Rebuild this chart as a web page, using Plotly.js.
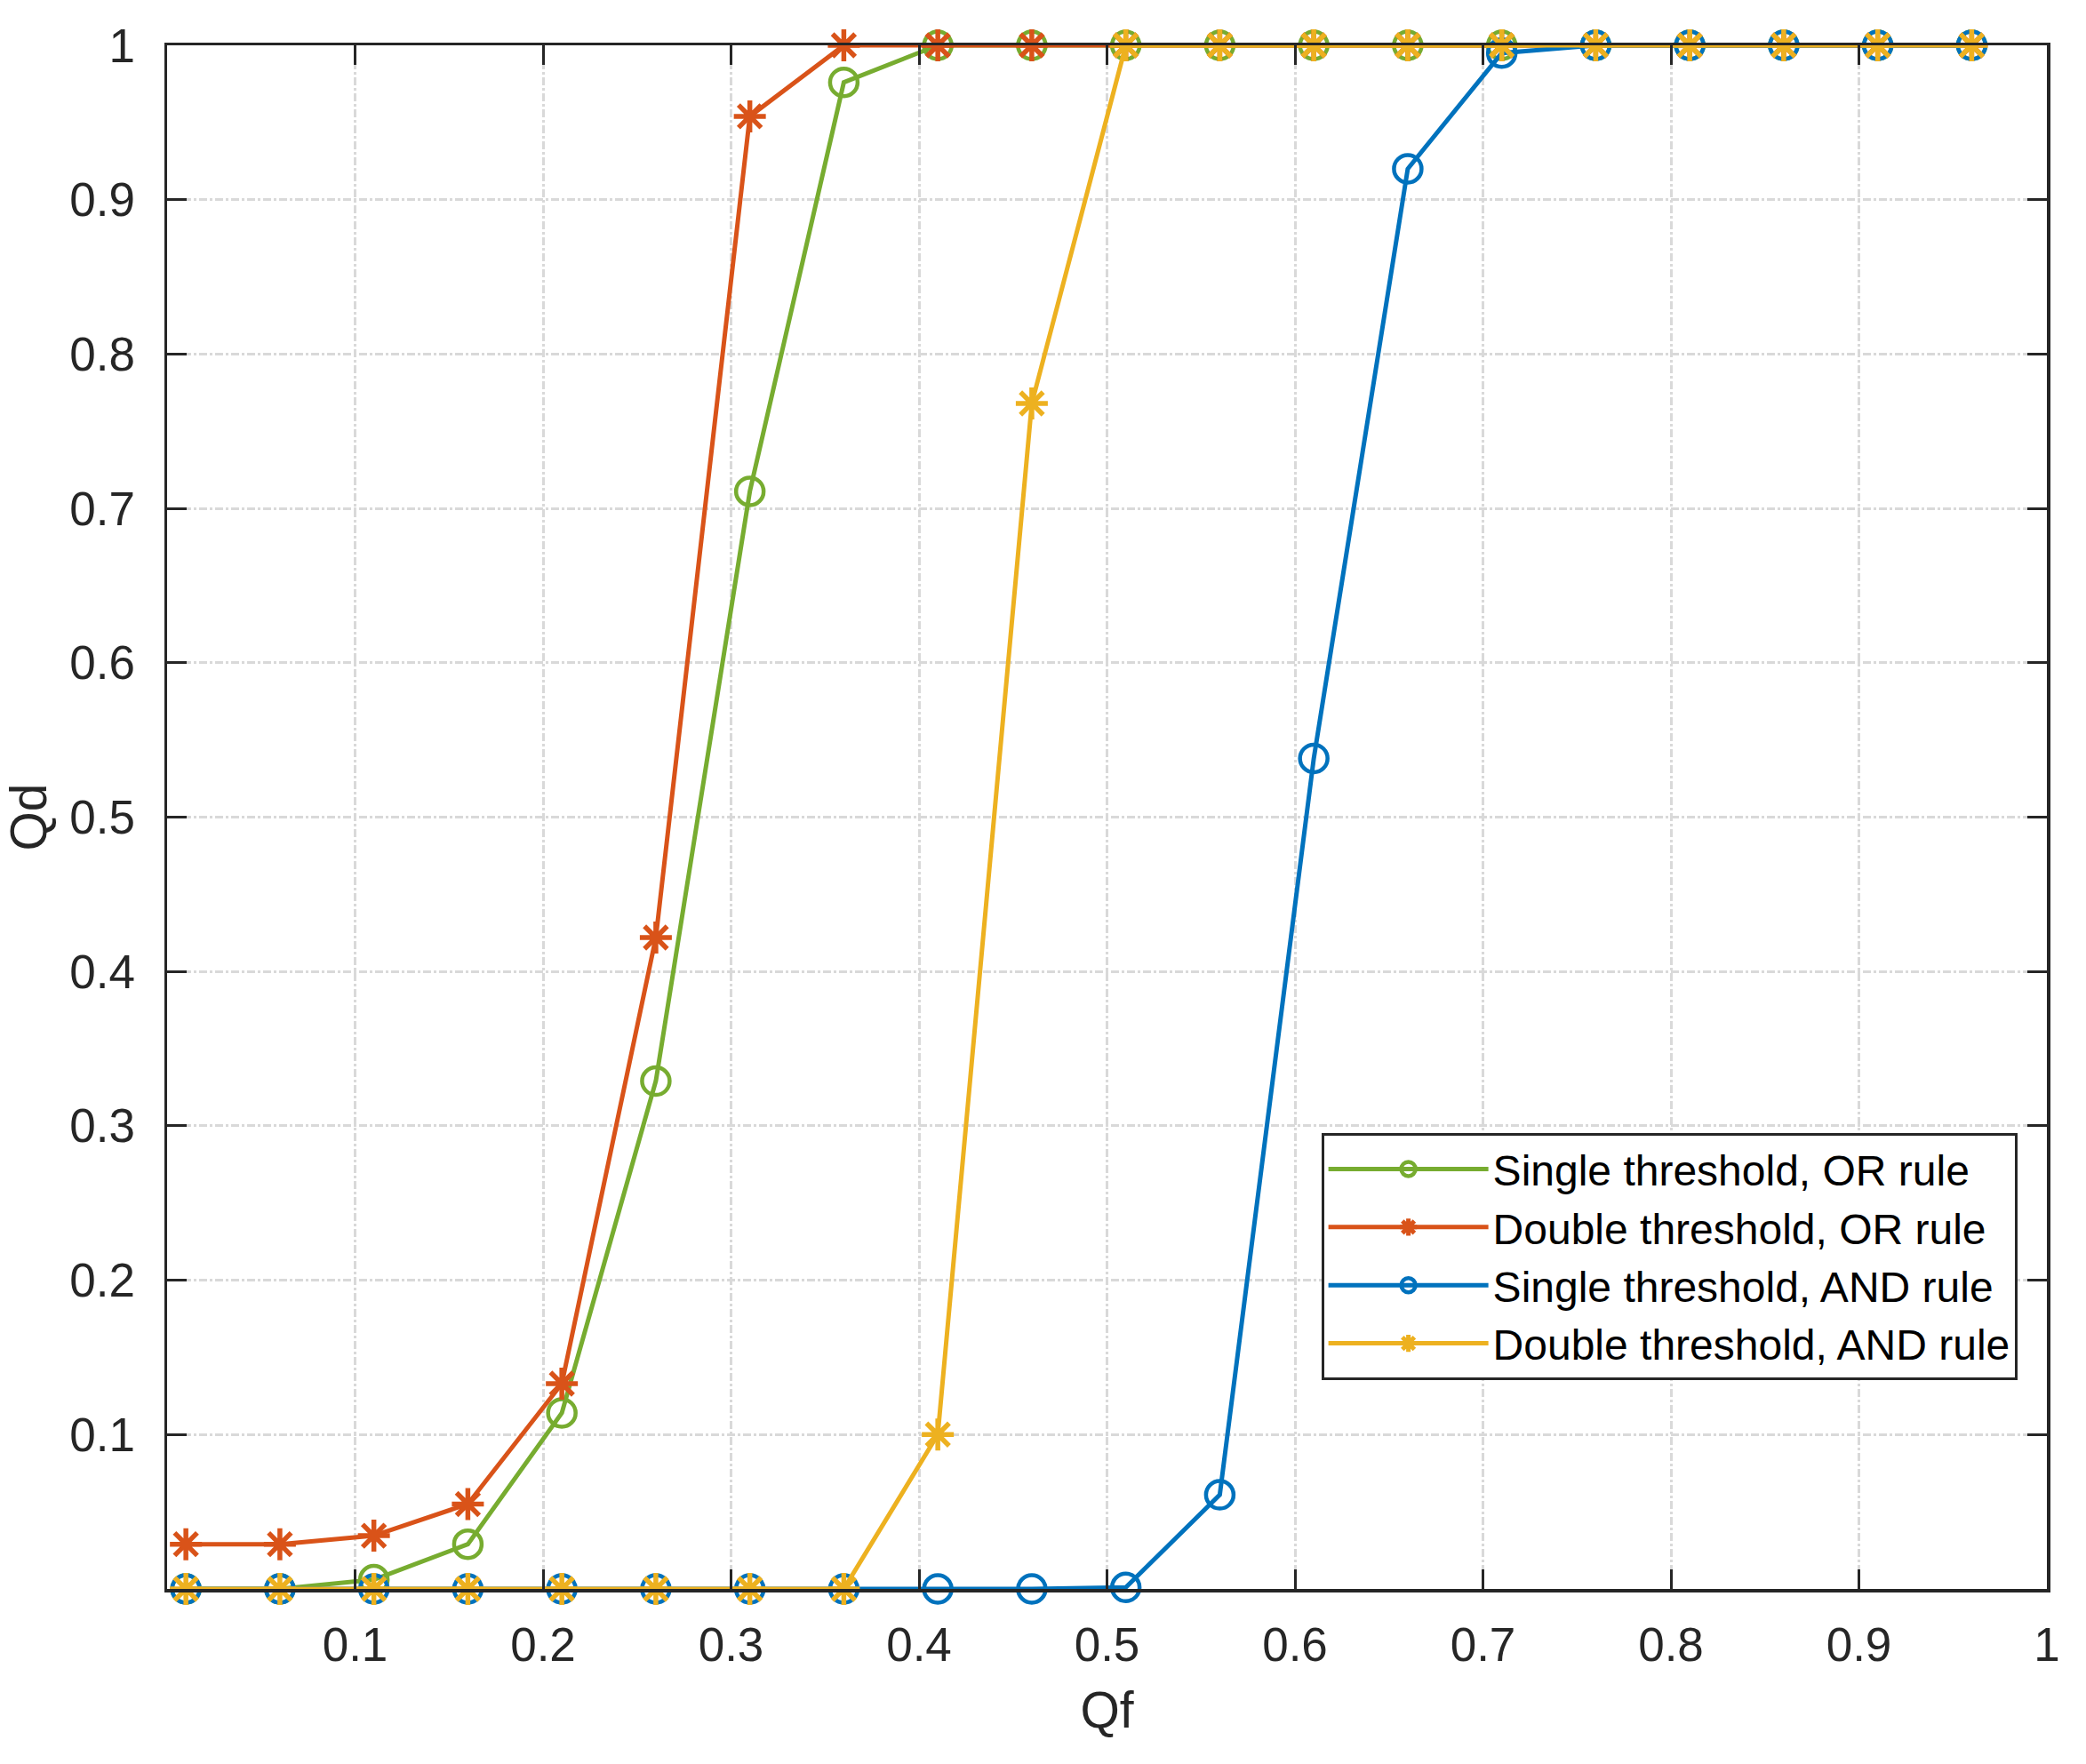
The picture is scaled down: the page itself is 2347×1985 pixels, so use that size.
<!DOCTYPE html>
<html>
<head>
<meta charset="utf-8">
<script src="https://cdn.plot.ly/plotly-3.0.1.min.js"></script>
<style>
  html, body { margin: 0; padding: 0; background: #fff; }
  #myDiv { width: 2347px; height: 1985px; }
</style>
</head>
<body>
<div id="myDiv"></div>
<script>
// Qd vs Qf for single / double threshold with OR / AND fusion rules

const qf = [0.01, 0.06, 0.11, 0.16, 0.21, 0.26, 0.31, 0.36, 0.41, 0.46,
            0.51, 0.56, 0.61, 0.66, 0.71, 0.76, 0.81, 0.86, 0.91, 0.96];

const singleOr  = [0, 0, 0.006, 0.029, 0.114, 0.329, 0.711, 0.976, 1, 1,
                   1, 1, 1, 1, 1, 1, 1, 1, 1, 1];
const doubleOr  = [0.029, 0.029, 0.0345, 0.055, 0.133, 0.422, 0.954, 1, 1, 1,
                   1, 1, 1, 1, 1, 1, 1, 1, 1, 1];
const singleAnd = [0, 0, 0, 0, 0, 0, 0, 0, 0, 0,
                   0.001, 0.061, 0.538, 0.92, 0.995, 1, 1, 1, 1, 1];
const doubleAnd = [0, 0, 0, 0, 0, 0, 0, 0, 0.1, 0.768,
                   1, 1, 1, 1, 1, 1, 1, 1, 1, 1];

const seriesNames = ['Single threshold, OR rule', 'Double threshold, OR rule',
                     'Single threshold, AND rule', 'Double threshold, AND rule'];
const tickVals = [0.1, 0.2, 0.3, 0.4, 0.5, 0.6, 0.7, 0.8, 0.9, 1];
const tickText = ['0.1', '0.2', '0.3', '0.4', '0.5', '0.6', '0.7', '0.8', '0.9', '1'];

const green = '#77AC30';
const red = '#D95319';
const blue = '#0072BD';
const yellow = '#EDB120';
const axisCol = '#262626';
const font = 'Liberation Sans, Arial, sans-serif';

function makeTrace(y, name, color, symbol) {
    const isCircle = symbol === 'circle-open';
    return {
        x: qf,
        y: y,
        name: name,
        mode: 'lines+markers',
        line: { color: color, width: 5 },
        marker: {
            symbol: symbol,
            size: isCircle ? 31 : 30,
            color: color,
            line: { color: color, width: isCircle ? 4.5 : 5.5 }
        },
        cliponaxis: false
    };
}

let data = [
    makeTrace(singleOr, seriesNames[0], green, 'circle-open'),
    makeTrace(doubleOr, seriesNames[1], red, 'asterisk-open'),
    makeTrace(singleAnd, seriesNames[2], blue, 'circle-open'),
    makeTrace(doubleAnd, seriesNames[3], yellow, 'asterisk-open')
];

let axisCommon = {
    range: [0, 1],
    autorange: false,
    tickmode: 'array',
    tickvals: tickVals,
    ticktext: tickText,
    ticks: 'inside',
    ticklen: 22,
    tickwidth: 3,
    tickcolor: axisCol,
    showline: true,
    linecolor: axisCol,
    linewidth: 3.5,
    mirror: 'ticks',
    showgrid: true,
    gridcolor: '#d9d9d9',
    gridwidth: 3,
    griddash: 'dashdot',
    zeroline: false,
    tickfont: { family: font, size: 53, color: axisCol }
};

let layout = {
    width: 2347,
    height: 1985,
    paper_bgcolor: '#ffffff',
    plot_bgcolor: '#ffffff',
    margin: { l: 188, r: 44, t: 51, b: 197 },
    showlegend: true,
    xaxis: Object.assign({}, axisCommon, {
        ticklabelstandoff: 14,
        title: { text: 'Qf', font: { family: font, size: 57, color: axisCol }, standoff: 26 }
    }),
    yaxis: Object.assign({}, axisCommon, {
        ticklabelstandoff: 22,
        title: { text: 'Qd', font: { family: font, size: 57, color: axisCol }, standoff: 13 }
    }),
    legend: {
        x: 0.614,
        y: 0.2955,
        xanchor: 'left',
        yanchor: 'top',
        bgcolor: '#ffffff',
        bordercolor: axisCol,
        borderwidth: 3,
        itemwidth: 180,
        tracegroupgap: 0,
        font: { family: font, size: 48, color: '#000000' }
    }
};

Plotly.newPlot('myDiv', data, layout, { displayModeBar: false, staticPlot: true });
</script>
</body>
</html>
